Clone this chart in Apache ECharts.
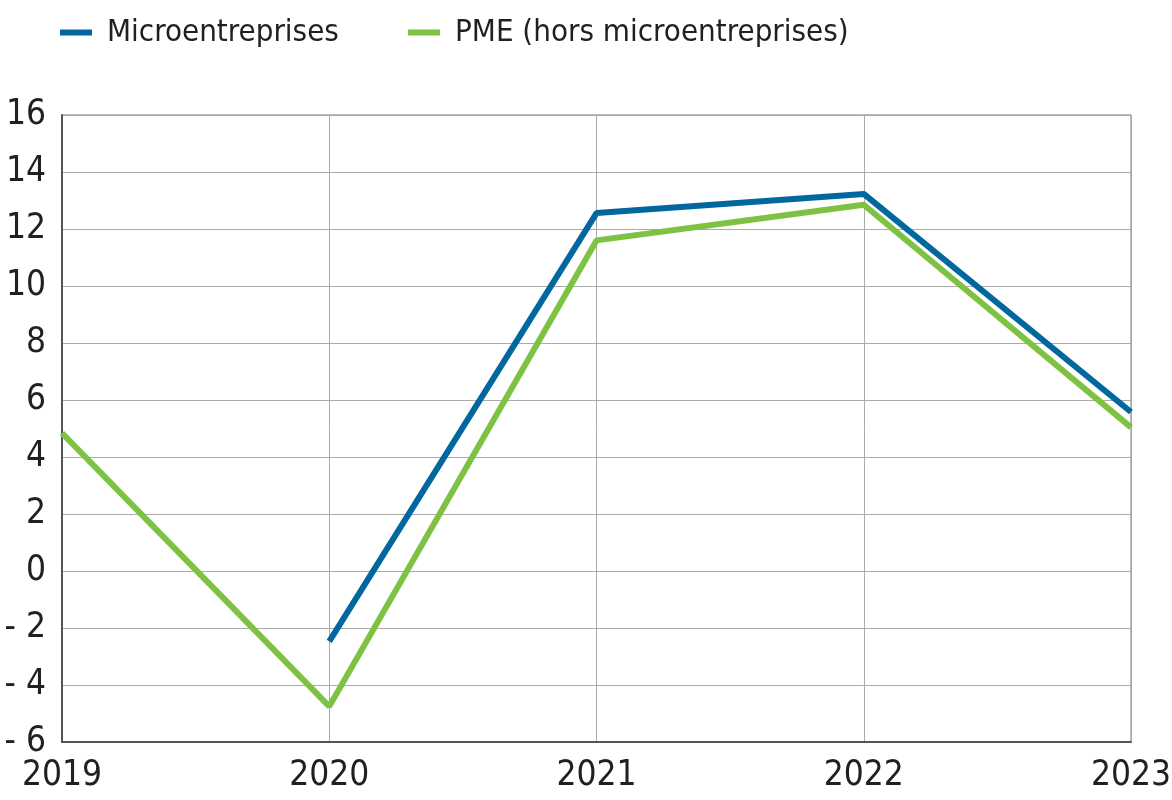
<!DOCTYPE html>
<html>
<head>
<meta charset="utf-8">
<script src="https://cdn.jsdelivr.net/npm/echarts@6/dist/echarts.min.js"></script>
<style>
	html, body { margin: 0; padding: 0; background: #fff; }
	#chart { width: 1172px; height: 800px; }
</style>
</head>
<body>
<div id="chart"></div>
<script>
// years on the x axis
var years = ['2019', '2020', '2021', '2022', '2023'];
// Microentreprises (no value for 2019)
var microValues = [null, -2.47, 12.56, 13.23, 5.58];
// PME (hors microentreprises)
var pmeValues = [4.84, -4.75, 11.6, 12.85, 5.04];
var seriesNames = ['Microentreprises', 'PME (hors microentreprises)'];

var font = '"Liberation Sans Narrow", "DejaVu Sans Condensed", "Noto Sans", sans-serif';
var textColor = '#231f20';

var legendText = { fontFamily: font, fontSize: 31, color: textColor, padding: [0, 0, 0, 10] };

var myChart = echarts.init(document.getElementById('chart'));
var option = {
	animation: false,
	//条目: two legends so each item sits where the reference puts it
	legend: [
		{
			data: [seriesNames[0]],
			left: 55,
			top: 12,
			icon: 'rect',
			itemWidth: 32,
			itemHeight: 6,
			textStyle: legendText
		},
		{
			data: [seriesNames[1]],
			left: 403,
			top: 12,
			icon: 'rect',
			itemWidth: 32,
			itemHeight: 6,
			textStyle: legendText
		}
	],
	grid: {
		left: 62,
		right: 41,
		top: 115,
		bottom: 58,
		outerBoundsMode: 'none',
		containLabel: false,
		show: true,
		borderColor: '#777',
		borderWidth: 1
	},
	xAxis: {
		type: 'category',
		boundaryGap: false,
		data: years,
		axisLine: { onZero: false, lineStyle: { color: '#555', width: 2 } },
		axisTick: { show: false },
		axisLabel: { fontFamily: font, fontSize: 35, color: textColor, margin: 16 },
		splitLine: { show: true, lineStyle: { color: '#aaa', width: 1 } }
	},
	yAxis: {
		type: 'value',
		min: -6,
		max: 16,
		interval: 2,
		axisLine: { show: true, lineStyle: { color: '#555', width: 2 } },
		axisTick: { show: false },
		axisLabel: {
			fontFamily: font, fontSize: 35, color: textColor, margin: 16,
			formatter: function (v) { return v < 0 ? '- ' + Math.abs(v) : '' + v; }
		},
		splitLine: { lineStyle: { color: '#aaa', width: 1 } }
	},
	series: [
		{
			name: seriesNames[0],
			type: 'line',
			data: microValues,
			symbol: 'none',
			color: '#00689f',
			lineStyle: { width: 6, color: '#00689f' }
		},
		{
			name: seriesNames[1],
			type: 'line',
			data: pmeValues,
			symbol: 'none',
			color: '#7dc242',
			lineStyle: { width: 6, color: '#7dc242' }
		}
	]
};
myChart.setOption(option);
</script>
</body>
</html>
